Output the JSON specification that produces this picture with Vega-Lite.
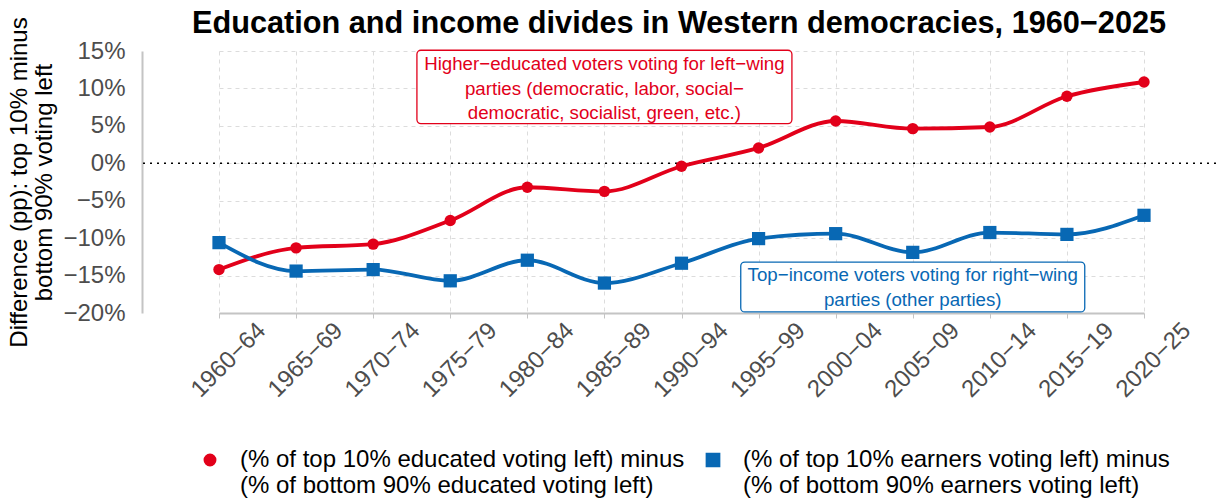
{
  "$schema": "https://vega.github.io/schema/vega-lite/v6.json",
  "width": 1074,
  "height": 262,
  "autosize": {"type": "none"},
  "padding": {"left": 142, "top": 51, "right": 0, "bottom": 190},
  "background": "white",
  "config": {
    "font": "Liberation Sans",
    "view": {"stroke": null},
    "axis": {
      "gridColor": "#dcdcdc",
      "gridDash": [4, 4],
      "gridWidth": 1,
      "domainColor": "#c4c4c4",
      "domainWidth": 2,
      "tickColor": "#c4c4c4",
      "labelColor": "#4d4d4d",
      "labelFontSize": 24,
      "titleColor": "black",
      "titleFontWeight": "normal"
    }
  },
  "title": {
    "text": "Education and income divides in Western democracies, 1960−2025",
    "fontSize": 30.7,
    "fontWeight": "bold",
    "color": "black",
    "anchor": "middle",
    "offset": 2,
    "dy": 25
  },
  "datasets": {
    "series": [
      {"period": "1960−64", "series": "(% of top 10% educated voting left) minus\n(% of bottom 90% educated voting left)", "value": -14.2},
      {"period": "1965−69", "series": "(% of top 10% educated voting left) minus\n(% of bottom 90% educated voting left)", "value": -11.3},
      {"period": "1970−74", "series": "(% of top 10% educated voting left) minus\n(% of bottom 90% educated voting left)", "value": -10.8},
      {"period": "1975−79", "series": "(% of top 10% educated voting left) minus\n(% of bottom 90% educated voting left)", "value": -7.65},
      {"period": "1980−84", "series": "(% of top 10% educated voting left) minus\n(% of bottom 90% educated voting left)", "value": -3.2},
      {"period": "1985−89", "series": "(% of top 10% educated voting left) minus\n(% of bottom 90% educated voting left)", "value": -3.75},
      {"period": "1990−94", "series": "(% of top 10% educated voting left) minus\n(% of bottom 90% educated voting left)", "value": -0.4},
      {"period": "1995−99", "series": "(% of top 10% educated voting left) minus\n(% of bottom 90% educated voting left)", "value": 2.05},
      {"period": "2000−04", "series": "(% of top 10% educated voting left) minus\n(% of bottom 90% educated voting left)", "value": 5.65},
      {"period": "2005−09", "series": "(% of top 10% educated voting left) minus\n(% of bottom 90% educated voting left)", "value": 4.63},
      {"period": "2010−14", "series": "(% of top 10% educated voting left) minus\n(% of bottom 90% educated voting left)", "value": 4.85},
      {"period": "2015−19", "series": "(% of top 10% educated voting left) minus\n(% of bottom 90% educated voting left)", "value": 8.95},
      {"period": "2020−25", "series": "(% of top 10% educated voting left) minus\n(% of bottom 90% educated voting left)", "value": 10.86},
      {"period": "1960−64", "series": "(% of top 10% earners voting left) minus\n(% of bottom 90% earners voting left)", "value": -10.6},
      {"period": "1965−69", "series": "(% of top 10% earners voting left) minus\n(% of bottom 90% earners voting left)", "value": -14.4},
      {"period": "1970−74", "series": "(% of top 10% earners voting left) minus\n(% of bottom 90% earners voting left)", "value": -14.2},
      {"period": "1975−79", "series": "(% of top 10% earners voting left) minus\n(% of bottom 90% earners voting left)", "value": -15.7},
      {"period": "1980−84", "series": "(% of top 10% earners voting left) minus\n(% of bottom 90% earners voting left)", "value": -12.95},
      {"period": "1985−89", "series": "(% of top 10% earners voting left) minus\n(% of bottom 90% earners voting left)", "value": -16.0},
      {"period": "1990−94", "series": "(% of top 10% earners voting left) minus\n(% of bottom 90% earners voting left)", "value": -13.35},
      {"period": "1995−99", "series": "(% of top 10% earners voting left) minus\n(% of bottom 90% earners voting left)", "value": -10.06},
      {"period": "2000−04", "series": "(% of top 10% earners voting left) minus\n(% of bottom 90% earners voting left)", "value": -9.4},
      {"period": "2005−09", "series": "(% of top 10% earners voting left) minus\n(% of bottom 90% earners voting left)", "value": -11.9},
      {"period": "2010−14", "series": "(% of top 10% earners voting left) minus\n(% of bottom 90% earners voting left)", "value": -9.25},
      {"period": "2015−19", "series": "(% of top 10% earners voting left) minus\n(% of bottom 90% earners voting left)", "value": -9.5},
      {"period": "2020−25", "series": "(% of top 10% earners voting left) minus\n(% of bottom 90% earners voting left)", "value": -6.95}
    ],
    "notes": [
      {"period": "1985−89", "series": "(% of top 10% educated voting left) minus\n(% of bottom 90% educated voting left)", "top": 15.1, "bottom": 5.3, "firstLine": 13.2, "label": "Higher−educated voters voting for left−wing\nparties (democratic, labor, social−\ndemocratic, socialist, green, etc.)"},
      {"period": "2005−09", "series": "(% of top 10% earners voting left) minus\n(% of bottom 90% earners voting left)", "top": -13.2, "bottom": -19.85, "firstLine": -14.95, "label": "Top−income voters voting for right−wing\nparties (other parties)"}
    ],
    "zero": [{"value": 0}]
  },
  "encoding": {
    "x": {
      "field": "period",
      "type": "ordinal",
      "sort": null,
      "scale": {"type": "point", "domain": ["1960−64", "1965−69", "1970−74", "1975−79", "1980−84", "1985−89", "1990−94", "1995−99", "2000−04", "2005−09", "2010−14", "2015−19", "2020−25"], "range": [77, 1002], "padding": 0},
      "axis": {
        "title": null,
        "labelAngle": -45,
        "labelAlign": "right",
        "labelBaseline": "top",
        "labelOffset": 34,
        "tickSize": 5,
        "labelPadding": 0,
        "grid": true
      }
    },
    "y": {
      "type": "quantitative",
      "scale": {"domain": [-20, 15], "nice": false, "zero": false},
      "axis": {
        "values": [-20, -15, -10, -5, 0, 5, 10, 15],
        "labelExpr": "format(datum.value / 100, '.0%')",
        "ticks": false,
        "labelPadding": 17,
        "title": ["Difference (pp): top 10% minus", "bottom 90% voting left"],
        "titleFontSize": 24,
        "titleLineHeight": 25,
        "titlePadding": 6,
        "grid": true
      }
    }
  },
  "layer": [
    {
      "data": {"name": "zero"},
      "mark": {"type": "rule", "color": "black", "strokeDash": [2, 5], "strokeWidth": 1.6},
      "encoding": {"x": null, "y": {"field": "value", "type": "quantitative"}}
    },
    {
      "data": {"name": "series"},
      "mark": {"type": "line", "strokeWidth": 3.8, "interpolate": "monotone"},
      "encoding": {
        "y": {"field": "value", "type": "quantitative"},
        "color": {
          "field": "series",
          "type": "nominal",
          "scale": {
            "domain": ["(% of top 10% educated voting left) minus\n(% of bottom 90% educated voting left)", "(% of top 10% earners voting left) minus\n(% of bottom 90% earners voting left)"],
            "range": ["#e2001a", "#0868b4"]
          },
          "legend": {
            "title": null,
            "orient": "none",
            "legendX": 56,
            "legendY": 397,
            "direction": "horizontal",
            "columns": 2,
            "columnPadding": 16,
            "labelFontSize": 24,
            "labelColor": "black",
            "labelLimit": 700,
            "labelOffset": 18,
            "symbolSize": 150,
            "labelExpr": "split(datum.label, '\\n')"
          }
        }
      }
    },
    {
      "data": {"name": "series"},
      "mark": {"type": "point", "filled": true, "opacity": 1},
      "encoding": {
        "y": {"field": "value", "type": "quantitative"},
        "color": {"field": "series", "type": "nominal"},
        "shape": {
          "field": "series",
          "type": "nominal",
          "scale": {
            "domain": ["(% of top 10% educated voting left) minus\n(% of bottom 90% educated voting left)", "(% of top 10% earners voting left) minus\n(% of bottom 90% earners voting left)"],
            "range": ["circle", "square"]
          }
        },
        "size": {
          "field": "series",
          "type": "nominal",
          "scale": {
            "domain": ["(% of top 10% educated voting left) minus\n(% of bottom 90% educated voting left)", "(% of top 10% earners voting left) minus\n(% of bottom 90% earners voting left)"],
            "range": [130, 175]
          },
          "legend": null
        }
      }
    },
    {
      "data": {"name": "notes"},
      "transform": [{"filter": "datum.top > 0"}],
      "mark": {"type": "bar", "width": 375, "fill": "white", "stroke": "#e2001a", "strokeWidth": 1.3, "cornerRadius": 4},
      "encoding": {
        "y": {"field": "top", "type": "quantitative"},
        "y2": {"field": "bottom"}
      }
    },
    {
      "data": {"name": "notes"},
      "transform": [{"filter": "datum.top < 0"}],
      "mark": {"type": "bar", "width": 344, "fill": "white", "stroke": "#0868b4", "strokeWidth": 1.3, "cornerRadius": 4},
      "encoding": {
        "y": {"field": "top", "type": "quantitative"},
        "y2": {"field": "bottom"}
      }
    },
    {
      "data": {"name": "notes"},
      "mark": {"type": "text", "lineBreak": "\n", "lineHeight": 24.5, "fontSize": 18.7, "align": "center", "baseline": "middle"},
      "encoding": {
        "y": {"field": "firstLine", "type": "quantitative"},
        "text": {"field": "label"},
        "color": {"field": "series", "type": "nominal"}
      }
    }
  ]
}
